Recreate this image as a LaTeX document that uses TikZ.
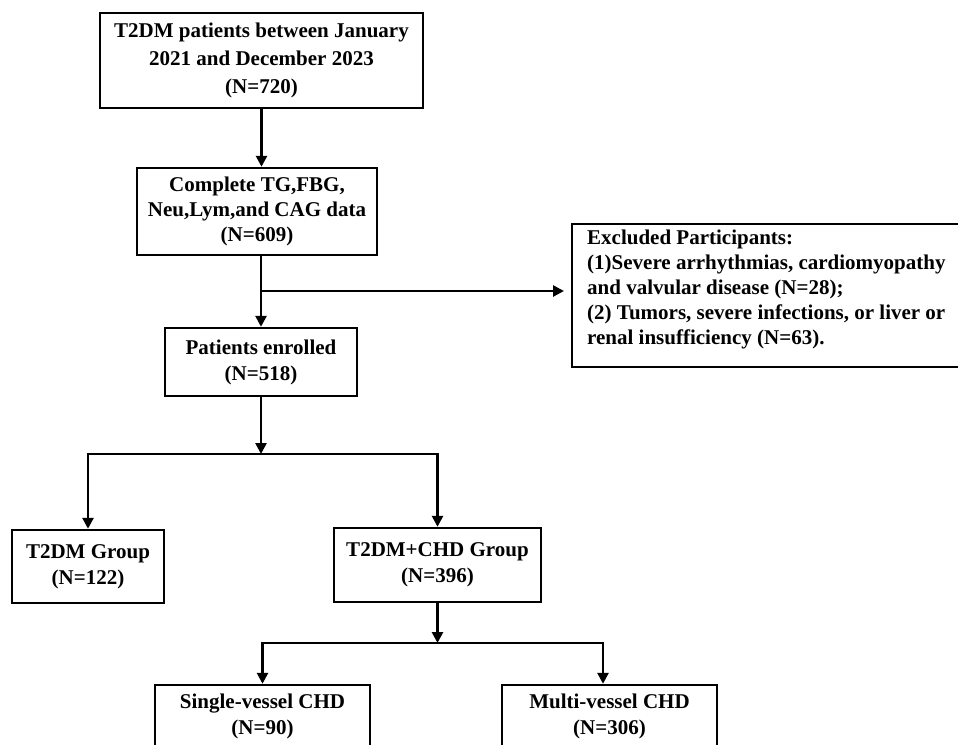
\documentclass[tikz,border=0pt]{standalone}
\usepackage{fontspec}
\setmainfont{Liberation Serif}
\usetikzlibrary{arrows.meta}
\begin{document}
\begin{tikzpicture}[x=1pt,y=-1pt,
  box/.style={draw, line width=2.4pt, rectangle, inner sep=0pt, align=center,
    font=\bfseries\fontsize{21}{26}\selectfont},
  conn/.style={line width=2.6pt},
  arr/.style={conn, -{Triangle[width=11pt,length=11pt]}}]
\useasboundingbox (0,0) rectangle (958,744);

\node[box, minimum width=323, minimum height=95,
  font=\bfseries\fontsize{21}{28}\selectfont] (top) at (261.5,60.5)
  {T2DM patients between January\\2021 and December 2023\\(N=720)};
\node[box, minimum width=240, minimum height=87,
  font=\bfseries\fontsize{21}{25}\selectfont] (box2) at (257,211.5)
  {Complete TG,FBG,\\Neu,Lym,and CAG data\\(N=609)};
\node[box, minimum width=192, minimum height=68] (box3) at (261,362)
  {Patients enrolled\\(N=518)};
\node[box, anchor=north west, minimum width=390, minimum height=143,
  inner xsep=15pt, inner ysep=0pt] (ex) at (571,223)
  {\raisebox{6pt}[\height][\depth]{\parbox{372pt}{\raggedright\bfseries\fontsize{21}{25}\selectfont
   Excluded Participants:\\
   (1)Severe arrhythmias, cardiomyopathy\\
   and valvular disease (N=28);\\
   (2) Tumors, severe infections, or liver or\\
   renal insufficiency (N=63).}}};
\node[box, minimum width=152, minimum height=73] (g1) at (88,566.5)
  {T2DM Group\\(N=122)};
\node[box, minimum width=207, minimum height=74] (g2) at (437.5,565)
  {T2DM+CHD Group\\(N=396)};
\node[box, minimum width=215, minimum height=62] (s1) at (262.5,716)
  {Single-vessel CHD\\(N=90)};
\node[box, minimum width=215, minimum height=62] (s2) at (609.5,716)
  {Multi-vessel CHD\\(N=306)};

\coordinate (j1) at (261,291);
\coordinate (j2) at (261,454);
\coordinate (j3) at (437.5,643);

\draw[arr] (top.south) -- (top.south |- box2.north);
\draw[arr] (box2.south -| j1) -- (box3.north -| j1);
\draw[arr, shorten >=7pt] (j1) -- (j1 -| ex.west);
\draw[arr] (box3.south) -- (j2);
\draw[arr] (j2) -| (g1.north);
\draw[arr] (j2) -| (g2.north);
\draw[arr] (g2.south) -- (j3);
\draw[arr] (j3) -| (s1.north);
\draw[arr] (j3) -| ([xshift=-6.5pt]s2.north);
\end{tikzpicture}
\end{document}
